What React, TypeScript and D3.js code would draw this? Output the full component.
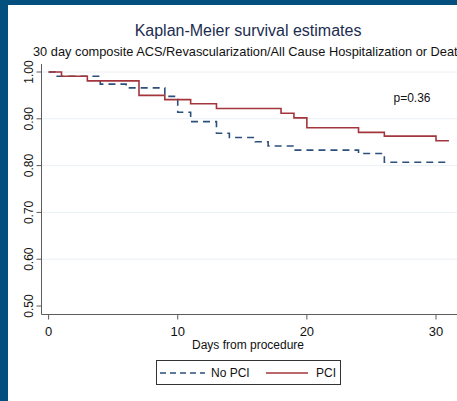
import * as d3 from 'd3';
import React, { useEffect, useRef } from 'react';

// step points: day of drop and survival after it
const noPciDays = [0, 0.5, 4, 6, 9, 10, 11, 13, 14, 16, 17, 19, 24, 26, 31];
const noPciSurv = [1.0, 0.991, 0.974, 0.966, 0.948, 0.914, 0.894, 0.869, 0.86, 0.851, 0.842, 0.833, 0.826, 0.807, 0.807];
const pciDays = [0, 1, 3, 7, 9, 11, 13, 18, 19, 20, 24, 26, 30, 31];
const pciSurv = [1.0, 0.991, 0.981, 0.95, 0.941, 0.932, 0.922, 0.912, 0.902, 0.881, 0.871, 0.863, 0.853, 0.853];

const yTicks = [0.5, 0.6, 0.7, 0.8, 0.9, 1.0];
const xTicks = [0, 10, 20, 30];
const title = 'Kaplan-Meier survival estimates';
const subtitle = '30 day composite ACS/Revascularization/All Cause Hospitalization or Death';
const xLabel = 'Days from procedure';
const pText = 'p=0.36';
const legendNames = ['No PCI', 'PCI'];

const W = 457;
const H = 401;
const FONT = '"Liberation Sans", Arial, sans-serif';
const BLUE = '#2c4f7c';
const RED = '#a3363d';

export default function App() {
  const svgRef = useRef<SVGSVGElement>(null);

  useEffect(() => {
    const svg = d3.select(svgRef.current);
    svg.selectAll('*').remove();
    svg.attr('width', W).attr('height', H);

    svg.append('rect').attr('width', W).attr('height', H).attr('fill', '#ffffff');
    // frame bands of the slide
    svg.append('rect').attr('x', 0).attr('y', 0).attr('width', W).attr('height', 5).attr('fill', '#03507f');
    svg.append('rect').attr('x', 0).attr('y', 0).attr('width', 8).attr('height', H).attr('fill', '#03507f');

    const x = d3.scaleLinear().domain([0, 30]).range([48.6, 436]);
    const y = d3.scaleLinear().domain([0.5, 1.0]).range([306, 72]);
    const left = 41.5;
    const top = 64;
    const bottom = 314.5;

    // grid
    svg.append('g')
      .selectAll('line')
      .data(yTicks.filter((t) => t > 0.5))
      .join('line')
      .attr('x1', left)
      .attr('x2', W)
      .attr('y1', (d) => y(d))
      .attr('y2', (d) => y(d))
      .attr('stroke', '#e9f0f3')
      .attr('stroke-width', 1);

    // y axis
    const yAxis = svg.append('g').attr('stroke', '#5c5c5c');
    yAxis.append('line').attr('x1', left).attr('x2', left).attr('y1', top).attr('y2', bottom);
    yAxis.selectAll('line.tick')
      .data(yTicks)
      .join('line')
      .attr('class', 'tick')
      .attr('x1', left - 5)
      .attr('x2', left)
      .attr('y1', (d) => y(d))
      .attr('y2', (d) => y(d));
    svg.append('g')
      .selectAll('text')
      .data(yTicks)
      .join('text')
      .attr('transform', (d) => `translate(33,${y(d)}) rotate(-90)`)
      .attr('text-anchor', 'middle')
      .attr('font-family', FONT)
      .attr('font-size', 12)
      .attr('fill', '#111')
      .text((d) => d3.format('.2f')(d));

    // x axis
    const xAxis = svg.append('g').attr('stroke', '#5c5c5c');
    xAxis.append('line').attr('x1', left).attr('x2', W).attr('y1', bottom).attr('y2', bottom);
    xAxis.selectAll('line.tick')
      .data(xTicks)
      .join('line')
      .attr('class', 'tick')
      .attr('x1', (d) => x(d))
      .attr('x2', (d) => x(d))
      .attr('y1', bottom)
      .attr('y2', bottom + 5);
    svg.append('g')
      .selectAll('text')
      .data(xTicks)
      .join('text')
      .attr('x', (d) => x(d))
      .attr('y', 336)
      .attr('text-anchor', 'middle')
      .attr('font-family', FONT)
      .attr('font-size', 13)
      .attr('fill', '#111')
      .text((d) => d);

    // curves
    const line = d3.line<number>()
      .x((d) => x(d))
      .curve(d3.curveStepAfter);
    svg.append('path')
      .attr('d', line.y((_, i) => y(noPciSurv[i]))(noPciDays))
      .attr('fill', 'none')
      .attr('stroke', BLUE)
      .attr('stroke-width', 1.6)
      .attr('stroke-dasharray', '7,5');
    svg.append('path')
      .attr('d', line.y((_, i) => y(pciSurv[i]))(pciDays))
      .attr('fill', 'none')
      .attr('stroke', RED)
      .attr('stroke-width', 1.6);

    // titles
    svg.append('text')
      .attr('x', 248)
      .attr('y', 36)
      .attr('text-anchor', 'middle')
      .attr('font-family', FONT)
      .attr('font-size', 16)
      .attr('fill', '#1c2c4f')
      .text(title);
    // subtitle runs past the right edge in the original slide
    svg.append('text')
      .attr('x', 33)
      .attr('y', 56)
      .attr('font-family', FONT)
      .attr('font-size', 12.8)
      .attr('fill', '#111')
      .text(subtitle);
    svg.append('text')
      .attr('x', 248)
      .attr('y', 349)
      .attr('text-anchor', 'middle')
      .attr('font-family', FONT)
      .attr('font-size', 12)
      .attr('fill', '#111')
      .text(xLabel);
    svg.append('text')
      .attr('x', 412)
      .attr('y', 102)
      .attr('text-anchor', 'middle')
      .attr('font-family', FONT)
      .attr('font-size', 12)
      .attr('fill', '#111')
      .text(pText);

    // legend
    const lg = svg.append('g');
    lg.append('rect')
      .attr('x', 156.5).attr('y', 360.5).attr('width', 184).attr('height', 24)
      .attr('fill', '#fff').attr('stroke', '#333').attr('stroke-width', 1);
    lg.append('line')
      .attr('x1', 160).attr('x2', 205).attr('y1', 373).attr('y2', 373)
      .attr('stroke', BLUE).attr('stroke-width', 1.6).attr('stroke-dasharray', '6,4');
    lg.append('line')
      .attr('x1', 266).attr('x2', 308).attr('y1', 373).attr('y2', 373)
      .attr('stroke', RED).attr('stroke-width', 1.6);
    lg.selectAll('text')
      .data(legendNames)
      .join('text')
      .attr('x', (_, i) => (i === 0 ? 211 : 316))
      .attr('y', 377)
      .attr('font-family', FONT)
      .attr('font-size', 12)
      .attr('fill', '#111')
      .text((d) => d);
  }, []);

  return (
    <svg ref={svgRef} style={{ position: 'fixed', left: 0, top: 0, display: 'block' }} />
  );
}
